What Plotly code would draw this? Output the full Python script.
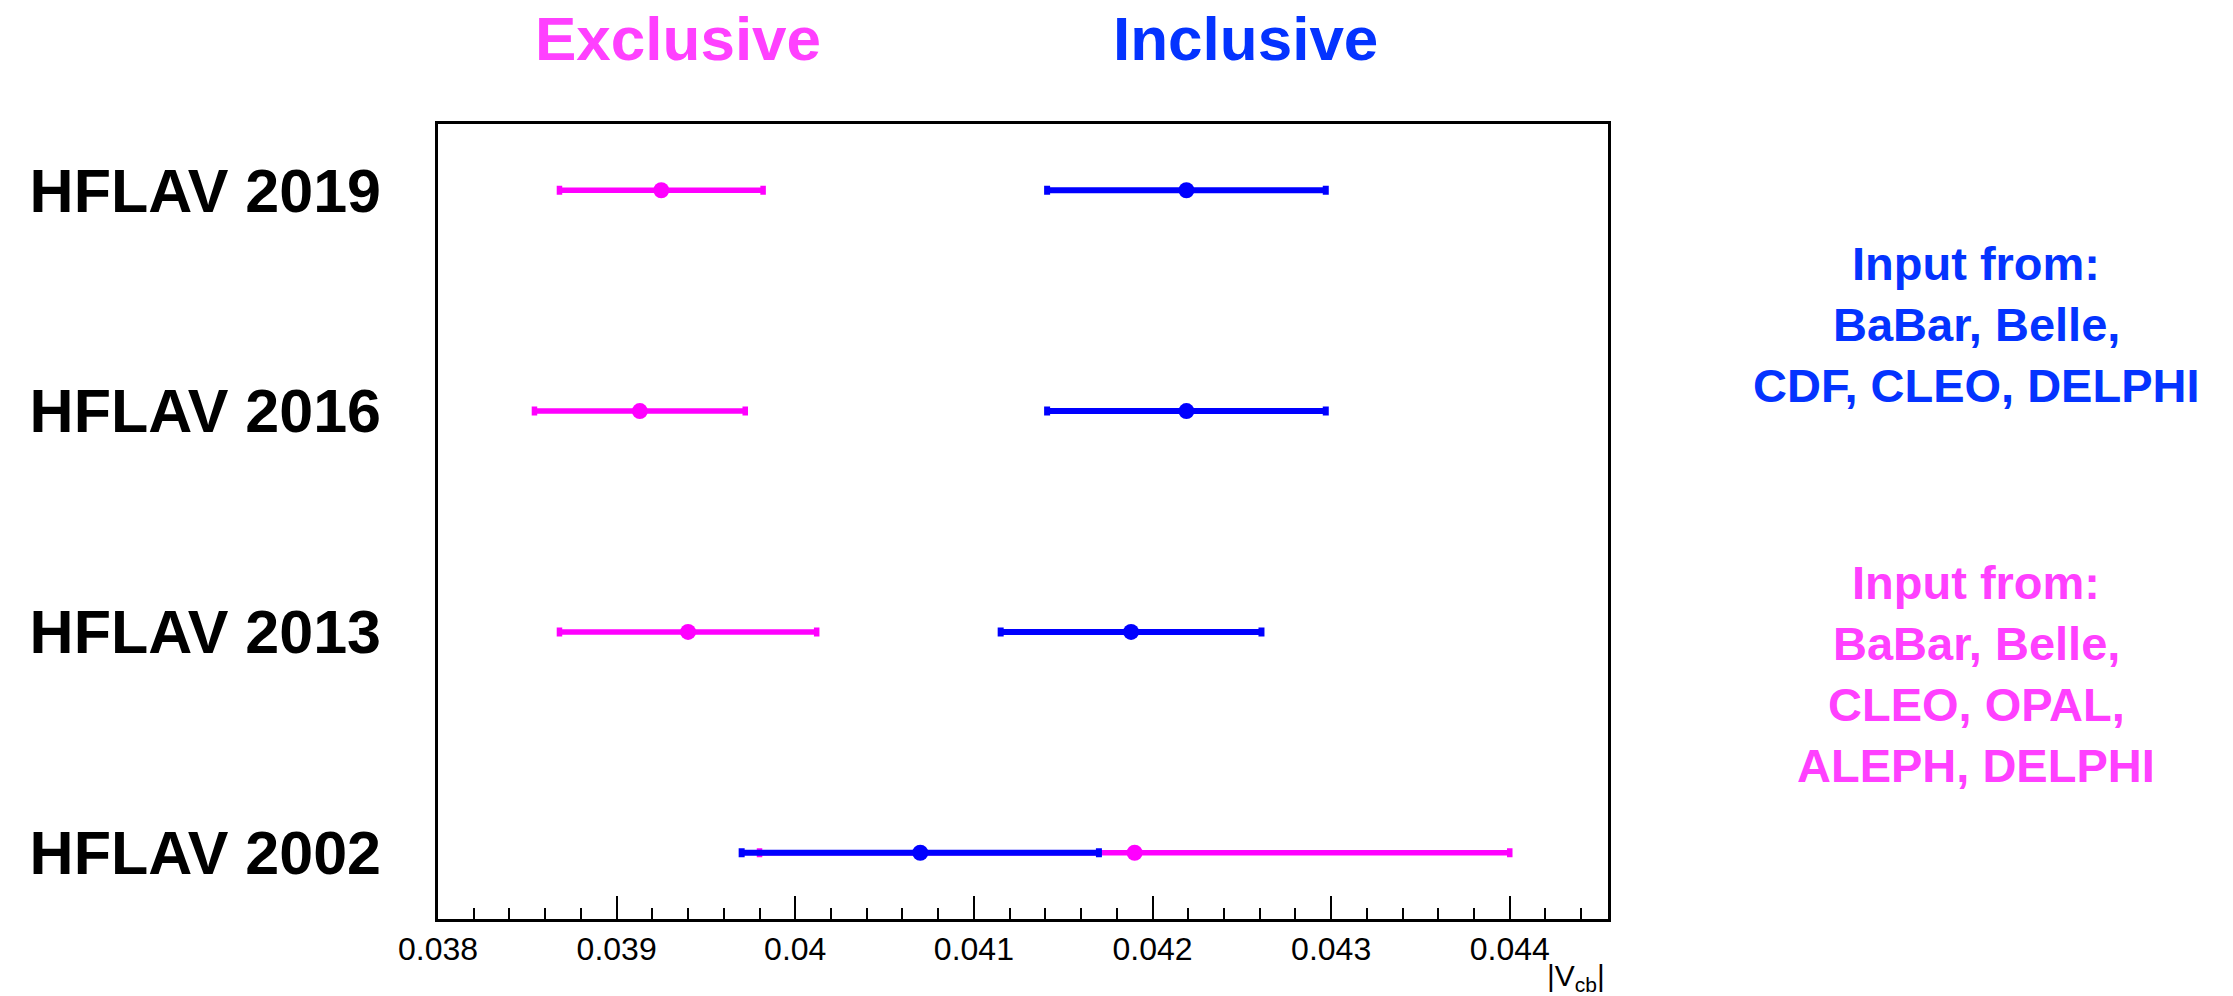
import plotly.graph_objects as go

# ---- data ----
labels = ["HFLAV 2002", "HFLAV 2013", "HFLAV 2016", "HFLAV 2019"]
rows = [0, 1, 2, 3]
excl_val = [0.04190, 0.03940, 0.03913, 0.03925]
excl_err = [0.00210, 0.00072, 0.00059, 0.00057]
incl_val = [0.04070, 0.04188, 0.04219, 0.04219]
incl_err = [0.00100, 0.00073, 0.00078, 0.00078]
xtick_vals = [0.038, 0.039, 0.040, 0.041, 0.042, 0.043, 0.044]
xtick_text = ["0.038", "0.039", "0.04", "0.041", "0.042", "0.043", "0.044"]
incl_sources = ["Input from:", "BaBar, Belle,", "CDF, CLEO, DELPHI"]
excl_sources = ["Input from:", "BaBar, Belle,", "CLEO, OPAL,", "ALEPH, DELPHI"]

MAG = "#FF00FF"
BLU = "#0000FF"
MAG_T = "#FF40FF"
BLU_T = "#0433FF"
FONT = "Liberation Sans, Arial, Helvetica, sans-serif"

fig = go.Figure()
fig.add_trace(go.Scatter(
    x=excl_val, y=rows, mode="markers",
    marker=dict(color=MAG, size=16),
    error_x=dict(type="data", array=excl_err, color=MAG, thickness=5.5, width=4.5),
    showlegend=False, name="Exclusive"))
fig.add_trace(go.Scatter(
    x=incl_val, y=rows, mode="markers",
    marker=dict(color=BLU, size=16),
    error_x=dict(type="data", array=incl_err, color=BLU, thickness=6, width=4.5),
    showlegend=False, name="Inclusive"))

W, H = 2233, 996
L, R, T, B = 438, 625, 124, 77
pw, ph = W - L - R, H - T - B

def px_x(x):
    return (x - L) / pw

def px_y(y):
    return (H - B - y) / ph

ann = []
ann.append(dict(text="<b>Exclusive</b>", x=px_x(678), y=px_y(38), xref="paper", yref="paper",
                showarrow=False, font=dict(size=62, color=MAG_T, family=FONT),
                xanchor="center", yanchor="middle"))
ann.append(dict(text="<b>Inclusive</b>", x=px_x(1245), y=px_y(38), xref="paper", yref="paper",
                showarrow=False, font=dict(size=62, color=BLU_T, family=FONT),
                xanchor="center", yanchor="middle"))
for i, t in enumerate(incl_sources):
    ann.append(dict(text="<b>" + t + "</b>", x=px_x(1976), y=px_y(263 + 61.3 * i),
                    xref="paper", yref="paper", showarrow=False,
                    font=dict(size=47, color=BLU_T, family=FONT),
                    xanchor="center", yanchor="middle"))
for i, t in enumerate(excl_sources):
    ann.append(dict(text="<b>" + t + "</b>", x=px_x(1976), y=px_y(582 + 61 * i),
                    xref="paper", yref="paper", showarrow=False,
                    font=dict(size=47, color=MAG_T, family=FONT),
                    xanchor="center", yanchor="middle"))
ann.append(dict(text="|V<sub>cb</sub>|", x=1.0, xshift=-2, y=px_y(958), xref="paper", yref="paper",
                showarrow=False, borderpad=0, font=dict(size=30, color="black", family=FONT),
                xanchor="right", yanchor="top"))

fig.update_layout(
    width=W, height=H, autosize=False,
    margin=dict(l=L, r=R, t=T, b=B, pad=0),
    paper_bgcolor="white", plot_bgcolor="white",
    annotations=ann,
    xaxis=dict(range=[0.038, 0.04455], showgrid=False, zeroline=False,
               showline=True, mirror=True, linecolor="black", linewidth=2.5,
               tickvals=xtick_vals, ticktext=xtick_text,
               ticks="inside", ticklen=23, tickwidth=1.5, tickcolor="black",
               tickfont=dict(size=32, color="black", family=FONT),
               minor=dict(dtick=0.0002, tick0=0.038, ticks="inside", ticklen=11,
                          tickwidth=1.5, tickcolor="black", showgrid=False)),
    yaxis=dict(range=[-0.3, 3.3], showgrid=False, zeroline=False,
               showline=True, mirror=True, linecolor="black", linewidth=2.5,
               tickvals=rows, ticktext=["<b>" + s + "</b>" for s in labels],
               ticks="", ticklabelstandoff=42,
               tickfont=dict(size=61, color="black", family=FONT)),
)

fig.write_html("out.html")
